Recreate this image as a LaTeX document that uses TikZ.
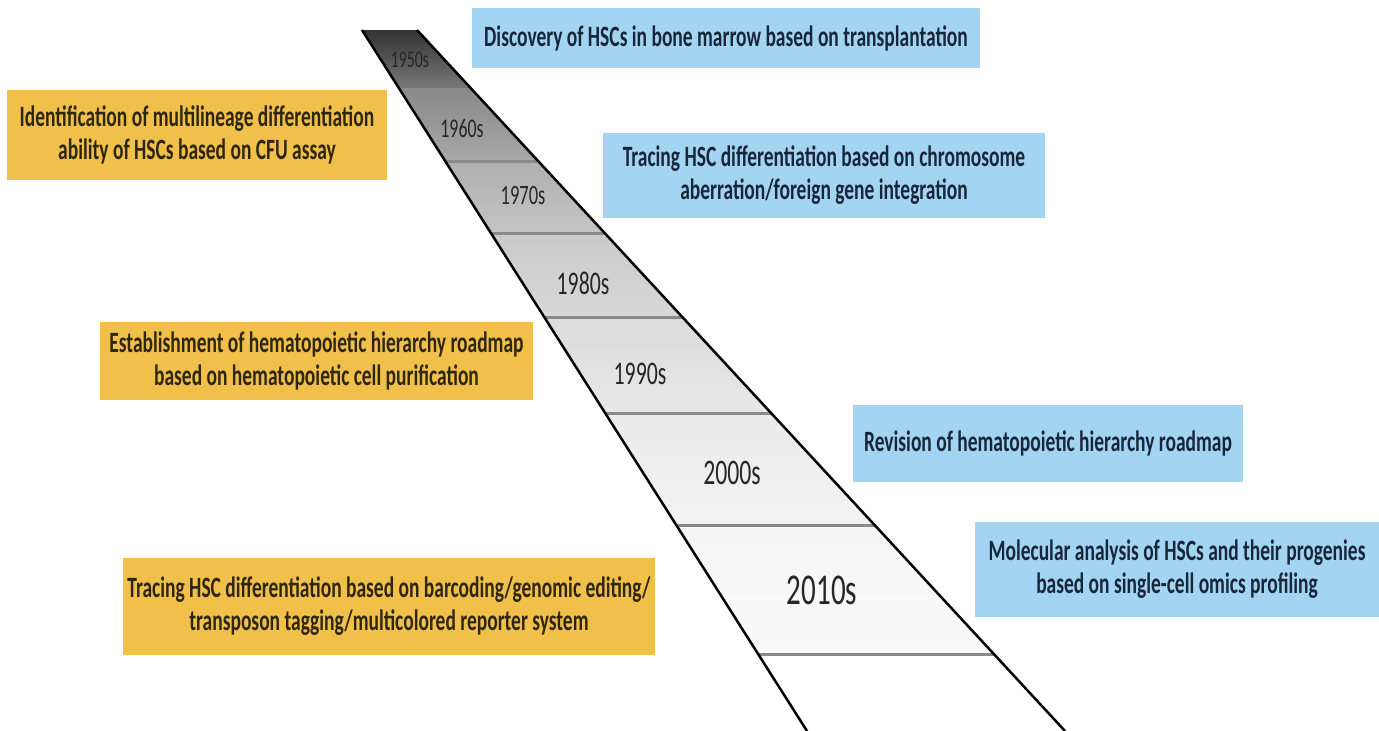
\documentclass[tikz,border=0pt]{standalone}
\usepackage{fontspec}
\setmainfont{Carlito}[FakeStretch=0.66]
\usepackage{tikz}
\usetikzlibrary{calc}

\definecolor{boxblue}{HTML}{A3D5F2}
\definecolor{boxgold}{HTML}{F0C04A}
\definecolor{txtnavy}{HTML}{17263A}
\definecolor{txtbrown}{HTML}{2E260F}
\definecolor{rulegray}{HTML}{8A8A8A}

\tikzset{
  eventbox/.style={inner sep=0pt, align=center, font=\bfseries\fontsize{29.5}{33}\selectfont},
  bluebox/.style={eventbox, fill=boxblue, text=txtnavy},
  goldbox/.style={eventbox, fill=boxgold, text=txtbrown},
  decade/.style={inner sep=0pt, text=black!85}
}

\begin{document}
\begin{tikzpicture}[x=1pt,y=1pt,yscale=-1]
\useasboundingbox[fill=white] (0,0) rectangle (1379,731);

% band corners
\coordinate (tl) at (362,30);
\coordinate (tr) at (417,30);
\coordinate (bl) at (807,731);
\coordinate (br) at (1065,731);

% shaded decades
\foreach \ya/\yb/\ca/\cb in {30/90/black!80/black!52, 90/162/black!46/black!34, 162/234/black!31/black!23,
  234/318/black!21/black!15, 318/413/black!14/black!9, 413/525/black!8/black!5, 525/655/black!4/black!2,
  655/731/white/white}
  \shade[top color=\ca, bottom color=\cb] ($(tl)!{(\ya-30)/701}!(bl)$) -- ($(tr)!{(\ya-30)/701}!(br)$)
    -- ($(tr)!{(\yb-30)/701}!(br)$) -- ($(tl)!{(\yb-30)/701}!(bl)$) -- cycle;

% dividers
\foreach \yy in {90,162,234,318,413,525,655}
  \draw[rulegray, line width=3pt] ($(tl)!{(\yy-30)/701}!(bl)$) -- ($(tr)!{(\yy-30)/701}!(br)$);

% edges
\draw[line width=2.5pt] (tl) -- (bl);
\draw[line width=2.5pt] (tr) -- (br);

% Decade labels
\node[decade, font=\fontsize{24}{24}\selectfont] (d1950) at (410,60) {1950s};
\node[decade, font=\fontsize{27}{27}\selectfont] (d1960) at (462,128) {1960s};
\node[decade, font=\fontsize{28}{28}\selectfont] (d1970) at (523,196) {1970s};
\node[decade, font=\fontsize{33}{33}\selectfont] (d1980) at (583,283) {1980s};
\node[decade, font=\fontsize{33}{33}\selectfont] (d1990) at (640,374) {1990s};
\node[decade, font=\fontsize{36}{36}\selectfont] (d2000) at (732,473) {2000s};
\node[decade, font=\fontsize{44}{44}\selectfont] (d2010) at (822,590) {2010s};

% Event boxes
\node[bluebox, minimum width=508pt, minimum height=60pt] (discovery) at (726,38)
  {Discovery of HSCs in bone marrow based on transplantation};
\node[goldbox, minimum width=380pt, minimum height=90pt] (cfu) at (197,135)
  {Identification of multilineage differentiation\\ability of HSCs based on CFU assay};
\node[bluebox, minimum width=442pt, minimum height=85pt] (chromosome) at (824,175.5)
  {Tracing HSC differentiation based on chromosome\\aberration/foreign gene integration};
\node[goldbox, minimum width=433pt, minimum height=78pt] (roadmap) at (316.5,361)
  {Establishment of hematopoietic hierarchy roadmap\\based on hematopoietic cell purification};
\node[bluebox, minimum width=390pt, minimum height=77pt] (revision) at (1048,443.5)
  {Revision of hematopoietic hierarchy roadmap};
\node[goldbox, minimum width=532pt, minimum height=97pt] (barcoding) at (389,606.5)
  {Tracing HSC differentiation based on barcoding/genomic editing/\\transposon tagging/multicolored reporter system};
\node[bluebox, minimum width=404pt, minimum height=95pt] (omics) at (1177,569.5)
  {Molecular analysis of HSCs and their progenies\\based on single-cell omics profiling};

\end{tikzpicture}
\end{document}
